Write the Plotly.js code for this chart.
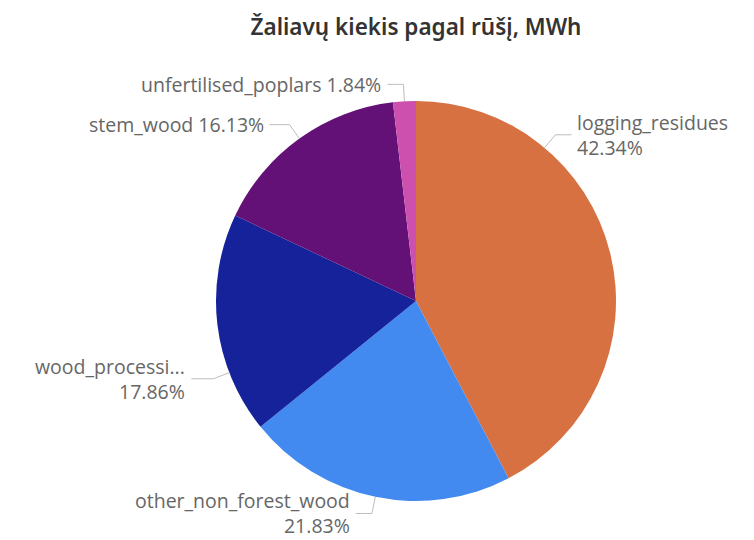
<!DOCTYPE html>
<html>
<head>
<meta charset="utf-8">
<script src="https://cdn.plot.ly/plotly-3.0.1.min.js"></script>
<style>html,body{margin:0;padding:0;background:#fff;}#chart{width:754px;height:540px;}</style>
</head>
<body>
<div id="chart"></div>
<script>
// ---- data ----
const categories = ["logging_residues", "other_non_forest_wood", "wood_processi...", "stem_wood", "unfertilised_poplars"];
const values = [42.34, 21.83, 17.86, 16.13, 1.84];
const colors = ["#D87142", "#4289F0", "#15229A", "#631077", "#CE50AE"];
const title = "Žaliavų kiekis pagal rūšį, MWh";

// ---- layout settings (not data) ----
const W = 754, H = 540;
const cx = 416, cy = 301, R = 200;
const labelAngleOverride = {"logging_residues": 40, "wood_processi...": 249};
const twoLine = {"logging_residues": true, "other_non_forest_wood": true, "wood_processi...": true};
const radialExt = 17, horizDefault = 16, textGap = 4;
const horizOverride = {"wood_processi...": 22, "stem_wood": 20};
const lineColor = "#bdbdbd";
const labelFont = {family: "Open Sans, Noto Sans, sans-serif", size: 19.5, color: "#666666"};

const total = values.reduce((a, b) => a + b, 0);
const annotations = [];
const shapes = [];
const px = x => x / W;
const py = y => 1 - y / H;
let cum = 0;
categories.forEach((cat, i) => {
  const frac = values[i] / total;
  let ang = (cum + frac / 2) * 360;
  cum += frac;
  if (labelAngleOverride[cat] !== undefined) ang = labelAngleOverride[cat];
  const t = ang * Math.PI / 180;
  const sx = Math.sin(t), sy = -Math.cos(t);
  const horiz = horizOverride[cat] !== undefined ? horizOverride[cat] : horizDefault;
  const p0 = [cx + R * sx, cy + R * sy];
  const p1 = [cx + (R + radialExt) * sx, cy + (R + radialExt) * sy];
  const right = sx > 0;
  const p2 = [p1[0] + (right ? horiz : -horiz), p1[1]];
  shapes.push({type: "line", xref: "paper", yref: "paper", x0: px(p0[0]), y0: py(p0[1]), x1: px(p1[0]), y1: py(p1[1]), line: {color: lineColor, width: 1}});
  shapes.push({type: "line", xref: "paper", yref: "paper", x0: px(p1[0]), y0: py(p1[1]), x1: px(p2[0]), y1: py(p2[1]), line: {color: lineColor, width: 1}});
  const pct = (frac * 100).toFixed(2) + "%";
  const txt = twoLine[cat] ? cat + "<br>" + pct : cat + " " + pct;
  annotations.push({
    xref: "paper", yref: "paper",
    x: px(p2[0] + (right ? textGap : -textGap)), y: py(p2[1]),
    xanchor: right ? "left" : "right", yanchor: "middle",
    align: right ? "left" : "right",
    text: txt, showarrow: false, font: labelFont
  });
});

const trace = {
  type: "pie",
  labels: categories,
  values: values,
  sort: false,
  direction: "clockwise",
  rotation: 0,
  marker: {colors: colors, line: {width: 0}},
  textinfo: "none",
  hoverinfo: "label+percent",
  showlegend: false,
  domain: {x: [(cx - R) / W, (cx + R) / W], y: [(H - cy - R) / H, (H - cy + R) / H]}
};

const layout = {
  width: W, height: H,
  margin: {l: 0, r: 0, t: 0, b: 0},
  paper_bgcolor: "#ffffff",
  plot_bgcolor: "#ffffff",
  title: {text: title, x: 416 / W, xanchor: "center", y: 1 - 27 / H, yanchor: "middle",
          font: {family: "Noto Sans, Open Sans, sans-serif", size: 22.5, color: "#333333", weight: 600}},
  annotations: annotations,
  shapes: shapes
};

Plotly.newPlot("chart", [trace], layout, {displayModeBar: false, staticPlot: true});
</script>
</body>
</html>
